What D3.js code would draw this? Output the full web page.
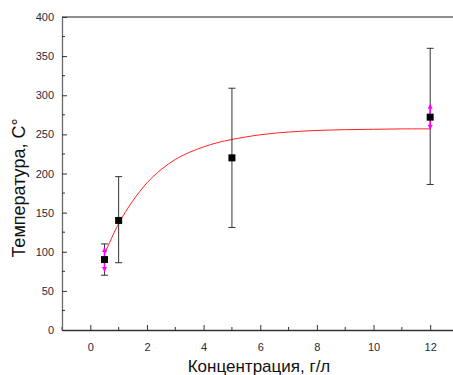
<!DOCTYPE html>
<html>
<head>
<meta charset="utf-8">
<script src="https://cdn.jsdelivr.net/npm/d3@7"></script>
<style>
  body { margin: 0; background: #fff; }
  text { font-family: "Liberation Sans", Arial, sans-serif; }
</style>
</head>
<body>
<div id="chart"></div>
<script>
// measured points
const conc = [0.5, 1, 5, 12];
const temp = [90, 140, 220, 272];
const errLow = [70, 86, 131, 186];
const errHigh = [110, 196, 309, 360];
const sdLow = [74, null, null, 256];
const sdHigh = [106, null, null, 289];

// fitted curve
const fitX = [0.5, 1, 1.5, 2, 2.5, 3, 3.5, 4, 4.5, 5, 6, 7, 8, 9, 10, 11, 12];
const fitY = [97, 136, 165, 188, 205, 218, 227, 234, 239.5, 243.5, 249.5, 253, 255, 256, 256.5, 257, 257];

const xTicks = [0, 2, 4, 6, 8, 10, 12];
const yTicks = [0, 50, 100, 150, 200, 250, 300, 350, 400];

const W = 453, H = 375;
const margin = { left: 62, top: 17, bottom: 45 };

const svg = d3.select("#chart").append("svg")
  .attr("width", W).attr("height", H);

const x = d3.scaleLinear().domain([-1, 13]).range([margin.left, 458.5]);
const y = d3.scaleLinear().domain([0, 400]).range([H - margin.bottom, margin.top]);

// frame: top line
svg.append("line")
  .attr("x1", x(-1)).attr("x2", W).attr("y1", y(400)).attr("y2", y(400))
  .attr("stroke", "#6b6b6b").attr("stroke-width", 1.5);

// X axis (ticks inward)
const xAxis = svg.append("g")
  .attr("transform", "translate(0," + y(0) + ")")
  .call(d3.axisBottom(x).tickValues(xTicks).tickSize(0).tickPadding(13).tickFormat(d3.format("d")));
xAxis.select(".domain").attr("stroke", "#333").attr("stroke-width", 1.3);
xAxis.selectAll("text").attr("font-size", 11).attr("fill", "#2a2a3a");
xAxis.selectAll(".tick").append("line").attr("y2", -5).attr("stroke", "#333");
xAxis.selectAll(".minor").data(d3.range(-1, 14, 2)).enter().append("line")
  .attr("x1", d => x(d)).attr("x2", d => x(d)).attr("y1", 0).attr("y2", -3).attr("stroke", "#333");

// Y axis (ticks inward)
const yAxis = svg.append("g")
  .attr("transform", "translate(" + x(-1) + ",0)")
  .call(d3.axisLeft(y).tickValues(yTicks).tickSize(0).tickPadding(8));
yAxis.select(".domain").attr("stroke", "#6b6b6b").attr("stroke-width", 1.3);
yAxis.selectAll("text").attr("font-size", 11).attr("fill", "#2a2a3a");
yAxis.selectAll(".tick").append("line").attr("x2", 5).attr("stroke", "#333");
yAxis.selectAll(".minor").data(d3.range(25, 400, 50)).enter().append("line")
  .attr("x1", 0).attr("x2", 3).attr("y1", d => y(d)).attr("y2", d => y(d)).attr("stroke", "#333");

// axis titles
svg.append("text")
  .attr("x", 259).attr("y", 372)
  .attr("text-anchor", "middle").attr("font-size", 17).attr("fill", "#111")
  .text("Концентрация, г/л");
svg.append("text")
  .attr("transform", "translate(25,188) rotate(-90)")
  .attr("text-anchor", "middle").attr("font-size", 18).attr("fill", "#111")
  .text("Температура, С°");

// fit curve
const fit = fitX.map((d, i) => [d, fitY[i]]);
svg.append("path")
  .datum(fit)
  .attr("fill", "none").attr("stroke", "#ff2020").attr("stroke-width", 1)
  .attr("d", d3.line().x(d => x(d[0])).y(d => y(d[1])).curve(d3.curveCatmullRom.alpha(0.5)));

const pts = conc.map((c, i) => ({ c, t: temp[i], lo: errLow[i], hi: errHigh[i], slo: sdLow[i], shi: sdHigh[i] }));

// error bars
const eb = svg.append("g").attr("stroke", "#333").attr("stroke-width", 1);
eb.selectAll(".v").data(pts).enter().append("line")
  .attr("x1", d => x(d.c)).attr("x2", d => x(d.c))
  .attr("y1", d => y(d.lo)).attr("y2", d => y(d.hi));
eb.selectAll(".capHi").data(pts).enter().append("line")
  .attr("x1", d => x(d.c) - 3.5).attr("x2", d => x(d.c) + 3.5)
  .attr("y1", d => y(d.hi)).attr("y2", d => y(d.hi));
eb.selectAll(".capLo").data(pts).enter().append("line")
  .attr("x1", d => x(d.c) - 3.5).attr("x2", d => x(d.c) + 3.5)
  .attr("y1", d => y(d.lo)).attr("y2", d => y(d.lo));

// magenta arrows
const sd = pts.filter(d => d.slo !== null);
const mg = svg.append("g");
sd.forEach(d => {
  const cx = x(d.c), cy = y(d.t);
  [[d.shi, -1], [d.slo, 1]].forEach(([v, dir]) => {
    const ty = y(v);
    mg.append("line")
      .attr("x1", cx).attr("x2", cx).attr("y1", cy).attr("y2", ty - dir * 3)
      .attr("stroke", "#ff00ff").attr("stroke-width", 1.5);
    mg.append("path")
      .attr("d", `M${cx},${ty} L${cx - 2.5},${ty - dir * 5} L${cx + 2.5},${ty - dir * 5} Z`)
      .attr("fill", "#ff00ff");
  });
});

// markers
svg.selectAll(".pt").data(pts).enter().append("rect")
  .attr("x", d => x(d.c) - 3.5).attr("y", d => y(d.t) - 3.5)
  .attr("width", 7).attr("height", 7)
  .attr("fill", "#000");
</script>
</body>
</html>
